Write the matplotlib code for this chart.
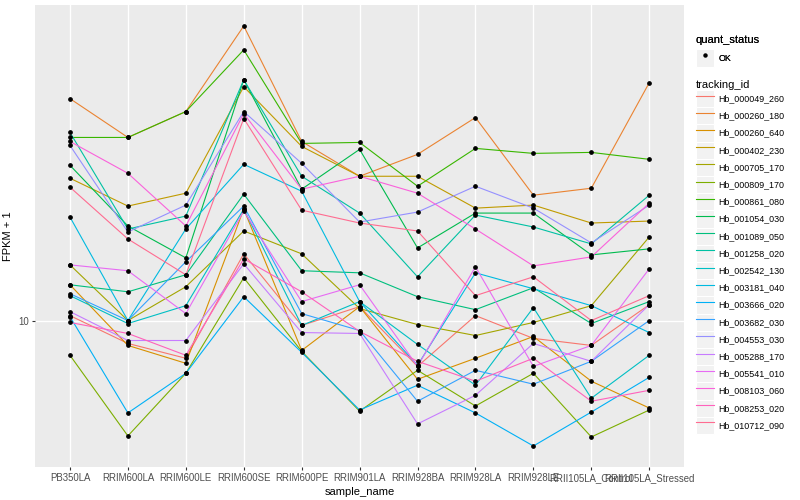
import numpy as np
import matplotlib
matplotlib.use("Agg")
import matplotlib.pyplot as plt
from matplotlib.lines import Line2D
from matplotlib.patches import Rectangle
from matplotlib.legend_handler import HandlerLine2D
from matplotlib.ticker import NullLocator

plt.rcParams['font.family'] = ['Liberation Sans', 'DejaVu Sans']

samples = ["PB350LA", "RRIM600LA", "RRIM600LE", "RRIM600SE", "RRIM600PE",
           "RRIM901LA", "RRIM928BA", "RRIM928LA", "RRIM928LE",
           "RRII105LA_Control", "RRII105LA_Stressed"]

tracking_ids = ["Hb_000049_260", "Hb_000260_180", "Hb_000260_640", "Hb_000402_230",
                "Hb_000705_170", "Hb_000809_170", "Hb_000861_080", "Hb_001054_030",
                "Hb_001089_050", "Hb_001258_020", "Hb_002542_130", "Hb_003181_040",
                "Hb_003666_020", "Hb_003682_030", "Hb_004553_030", "Hb_005288_170",
                "Hb_005541_010", "Hb_008103_060", "Hb_008253_020", "Hb_010712_090"]

# FPKM + 1 per sample
hb_000049_260 = [10.29, 8.76, 8.04, 14.71, 9.72, 10.84, 7.67, 10.29, 9.02, 8.66, 10.96]
hb_000260_180 = [36.10, 28.84, 33.50, 54.95, 28.18, 23.04, 26.15, 32.36, 20.65, 21.50, 39.58]
hb_000260_640 = [12.30, 8.66, 7.81, 19.05, 8.41, 10.84, 7.12, 8.04, 9.12, 7.04, 6.03]
hb_000402_230 = [22.78, 19.39, 20.89, 38.68, 27.38, 23.04, 23.04, 19.16, 19.50, 17.58, 17.78]
hb_000705_170 = [13.80, 10.00, 12.16, 16.79, 14.71, 10.72, 9.77, 9.17, 9.89, 10.90, 16.22]
hb_000809_170 = [8.18, 5.13, 7.37, 12.81, 8.37, 5.92, 7.50, 6.10, 7.37, 5.10, 5.96]
hb_000861_080 = [28.84, 28.84, 33.50, 47.86, 27.86, 28.02, 21.75, 27.07, 26.30, 26.45, 25.41]
hb_001054_030 = [24.55, 17.28, 14.37, 40.27, 21.38, 26.92, 15.22, 18.62, 18.62, 14.62, 15.14]
hb_001089_050 = [12.30, 11.81, 13.03, 20.77, 13.34, 13.18, 11.48, 10.65, 12.09, 9.83, 11.16]
hb_001258_020 = [29.69, 16.98, 18.30, 40.27, 23.04, 18.62, 12.88, 18.41, 17.18, 15.58, 20.65]
hb_002542_130 = [11.55, 9.83, 10.90, 19.05, 9.72, 11.16, 8.71, 6.88, 10.78, 6.38, 8.18]
hb_003181_040 = [18.20, 10.00, 16.98, 24.69, 21.13, 11.16, 7.72, 13.18, 12.02, 10.90, 9.33]
hb_003666_020 = [10.23, 5.86, 7.37, 11.48, 8.32, 5.96, 6.88, 5.86, 4.84, 5.89, 7.20]
hb_003682_030 = [11.68, 10.00, 14.05, 19.39, 10.41, 9.44, 6.27, 7.50, 6.92, 7.90, 10.00]
hb_004553_030 = [27.54, 16.69, 19.50, 33.50, 24.83, 17.68, 18.73, 21.75, 19.16, 15.67, 19.50]
hb_005288_170 = [10.53, 8.91, 8.91, 13.88, 9.33, 9.28, 5.50, 6.49, 8.76, 7.90, 10.96]
hb_005541_010 = [13.80, 13.34, 10.41, 18.84, 11.16, 12.30, 7.67, 13.65, 7.67, 8.66, 13.49]
hb_008103_060 = [28.18, 23.44, 17.28, 33.11, 21.38, 23.04, 20.89, 16.98, 13.72, 14.45, 19.72]
hb_008253_020 = [9.89, 9.28, 8.18, 14.29, 11.81, 9.39, 7.90, 7.04, 8.04, 6.27, 6.68]
hb_010712_090 = [21.63, 16.03, 13.03, 32.18, 18.94, 17.58, 16.79, 11.55, 12.88, 10.00, 11.55]

series = [hb_000049_260, hb_000260_180, hb_000260_640, hb_000402_230, hb_000705_170,
          hb_000809_170, hb_000861_080, hb_001054_030, hb_001089_050, hb_001258_020,
          hb_002542_130, hb_003181_040, hb_003666_020, hb_003682_030, hb_004553_030,
          hb_005288_170, hb_005541_010, hb_008103_060, hb_008253_020, hb_010712_090]

# ggplot2 default hue palette for 20 levels
colors = ["#F8766D", "#EA8331", "#D89000", "#C09B00", "#A3A500", "#7CAE00", "#39B600",
          "#00BB4E", "#00BF7D", "#00C1A3", "#00BFC4", "#00BAE0", "#00B0F6", "#35A2FF",
          "#9590FF", "#C77CFF", "#E76BF3", "#FA62DB", "#FF62BC", "#FF6C91"]


class KeyHandler(HandlerLine2D):
    # line key drawn on a grey box, like ggplot legend keys
    def create_artists(self, legend, orig_handle, xdescent, ydescent,
                       width, height, fontsize, trans):
        arts = super().create_artists(legend, orig_handle, xdescent, ydescent,
                                      width, height, fontsize, trans)
        box = Rectangle((-xdescent, -ydescent), width, height,
                        facecolor="#F2F2F2", edgecolor="white", lw=0.8,
                        transform=trans, zorder=0)
        return [box] + arts


fig = plt.figure(figsize=(8, 5), dpi=100)
ax = fig.add_axes([0.044, 0.066, 0.811, 0.924])
ax.set_facecolor("#EBEBEB")

x = np.arange(len(samples))
handles = []
for name, vals, col in zip(tracking_ids, series, colors):
    ax.plot(x, vals, color=col, lw=0.8, zorder=2)
    handles.append(Line2D([], [], color=col, lw=0.8))
for vals in series:
    ax.plot(x, vals, ls="none", marker="o", ms=2.4, mfc="black", mec="black", zorder=3)

ax.set_yscale("log")
allv = np.log10(np.concatenate([np.array(s) for s in series]))
lo, hi = allv.min(), allv.max()
pad = (hi - lo) * 0.05
ax.set_ylim(10 ** (lo - pad), 10 ** (hi + pad))
ax.set_xlim(-0.6, len(samples) - 0.4)

ax.set_xticks(x)
ax.set_xticklabels(samples)
ax.set_yticks([10])
ax.set_yticklabels(["10"])
ax.yaxis.set_minor_locator(NullLocator())

ax.grid(True, which="major", color="white", lw=1.0)
ax.set_axisbelow(True)
for s in ax.spines.values():
    s.set_visible(False)
ax.tick_params(axis="both", length=2.5, width=0.8, color="#333333",
               labelcolor="#4D4D4D", labelsize=6.9, pad=2)

ax.set_xlabel("sample_name", fontsize=8, labelpad=3)
ax.set_ylabel("FPKM + 1", fontsize=8, labelpad=4)

leg1 = fig.legend([Line2D([], [], ls="none", marker="o", ms=2.2, color="black")], ["OK"],
                  title="quant_status", loc="upper left", bbox_to_anchor=(0.870, 0.930),
                  frameon=False, fontsize=6.4, title_fontsize=8, alignment="left",
                  handlelength=2.0, handleheight=2.6, handletextpad=0.5,
                  borderpad=0, borderaxespad=0,
                  handler_map={Line2D: KeyHandler()})
fig.add_artist(leg1)
leg2 = fig.legend(handles, tracking_ids, title="tracking_id", loc="upper left",
                  bbox_to_anchor=(0.870, 0.840), frameon=False, fontsize=6.4,
                  title_fontsize=8, alignment="left", handlelength=2.0,
                  handleheight=2.6, labelspacing=0.0, handletextpad=0.5,
                  borderpad=0, borderaxespad=0,
                  handler_map={Line2D: KeyHandler()})

plt.savefig("out.png", dpi=100)
